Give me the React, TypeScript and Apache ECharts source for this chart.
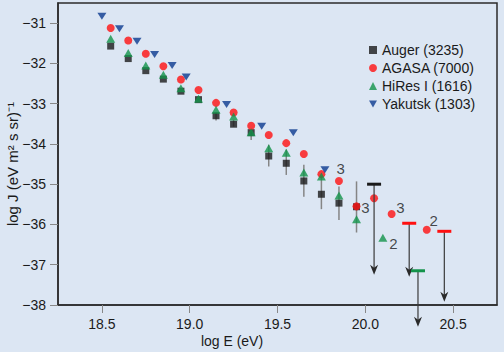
import React, { useEffect, useRef } from "react";
import * as echarts from "echarts";

// Tick labels
const xTicks = [18.5, 19.0, 19.5, 20.0, 20.5];
const yTicks = [-38, -37, -36, -35, -34, -33, -32, -31];

// Series (log E, log J)
const augerE = [18.55, 18.65, 18.75, 18.85, 18.95, 19.05, 19.15, 19.25, 19.35, 19.45, 19.55, 19.65, 19.75, 19.85, 19.95];
const augerJ = [-31.57, -31.88, -32.18, -32.39, -32.69, -32.9, -33.3, -33.51, -33.72, -34.3, -34.48, -34.92, -35.25, -35.47, -35.56];

const agasaE = [18.55, 18.65, 18.75, 18.85, 18.95, 19.05, 19.15, 19.25, 19.35, 19.45, 19.55, 19.65, 19.75, 19.85, 19.95, 20.05, 20.15, 20.35];
const agasaJ = [-31.12, -31.43, -31.76, -32.07, -32.4, -32.66, -32.98, -33.22, -33.55, -33.78, -33.98, -34.25, -34.75, -34.92, -35.55, -35.35, -35.74, -36.13];

const hiresE = [18.55, 18.65, 18.75, 18.85, 18.95, 19.05, 19.15, 19.25, 19.35, 19.45, 19.55, 19.65, 19.75, 19.85, 19.95, 20.1];
const hiresJ = [-31.39, -31.74, -32.05, -32.28, -32.62, -32.88, -33.15, -33.32, -33.71, -34.11, -34.22, -34.71, -34.81, -35.28, -35.87, -36.33];

const yakutskE = [18.5, 18.6, 18.7, 18.8, 18.9, 18.98, 19.21, 19.41, 19.59, 19.77];
const yakutskJ = [-30.83, -31.14, -31.45, -31.78, -32.05, -32.34, -33.02, -33.56, -33.72, -34.64];

// Error bars
const errE = [19.15, 19.25, 19.35, 19.45, 19.55, 19.65, 19.75, 19.85, 19.95];
const errLow = [-33.42, -33.57, -33.9, -34.56, -34.77, -35.31, -35.62, -35.89, -36.2];
const errHigh = [-33.22, -33.4, -33.69, -34.02, -34.14, -34.52, -34.8, -35.06, -34.93];

// Upper limits
const limitSeries = ["Auger", "AGASA", "AGASA", "HiRes"];
const limitE = [20.05, 20.25, 20.45, 20.3];
const limitJ = [-35.0, -35.97, -36.17, -37.15];
const limitArrowJ = [-37.25, -37.3, -37.92, -38.54];

// Annotations (event counts)
const noteE = [19.86, 20.0, 20.2, 20.16, 20.39];
const noteJ = [-34.62, -35.59, -35.58, -36.47, -35.9];
const noteText = ["3", "3", "3", "2", "2"];

const names = ["Auger (3235)", "AGASA (7000)", "HiRes I (1616)", "Yakutsk (1303)"];
const colors: Record<string, string> = {
  Auger: "#1a1a1a",
  AGASA: "#ff1010",
  HiRes: "#13934a",
  Yakutsk: "#0b3a8e",
};

const FONT = "'Liberation Sans', Arial, sans-serif";
const BG = "#dce6f3";

export default function App() {
  const ref = useRef<HTMLDivElement>(null);
  useEffect(() => {
    if (!ref.current) return;
    const chart = echarts.init(ref.current, undefined, { renderer: "svg" });
    const pairs = (e: number[], j: number[]) => e.map((v, i) => [v, j[i]]);
    chart.setOption({
      animation: false,
      backgroundColor: BG,
      textStyle: { fontFamily: FONT },
      grid: {
        left: 58,
        right: 7,
        top: 3,
        bottom: 47,
        show: true,
        borderColor: "#2b2b2b",
        borderWidth: 1.5,
        backgroundColor: "transparent",
      },
      legend: {
        data: names,
        orient: "vertical",
        left: 364,
        top: 38,
        itemWidth: 8,
        itemHeight: 8,
        itemGap: 4,
        textStyle: { fontSize: 14, color: "#1a1a1a", fontFamily: FONT, lineHeight: 14 },
      },
      xAxis: {
        type: "value",
        min: 18.25,
        max: 20.75,
        axisLine: { show: true, lineStyle: { color: "#2b2b2b", width: 1.5 } },
        axisTick: { show: true, length: 8, customValues: xTicks, lineStyle: { color: "#888" } },
        axisLabel: {
          customValues: xTicks,
          formatter: (v: number) => v.toFixed(1),
          fontSize: 14,
          color: "#1a1a1a",
          margin: 12,
          fontFamily: FONT,
        },
        splitLine: { show: false },
      },
      yAxis: {
        type: "value",
        min: -38,
        max: -30.5,
        axisLine: { show: true, lineStyle: { color: "#2b2b2b", width: 1.5 } },
        axisTick: { show: true, length: 8, customValues: yTicks, lineStyle: { color: "#888" } },
        axisLabel: {
          customValues: yTicks,
          formatter: (v: number) => (v < 0 ? "\u2212" : "") + Math.abs(v),
          fontSize: 14,
          color: "#1a1a1a",
          margin: 12,
          fontFamily: FONT,
        },
        splitLine: { show: false },
      },
      graphic: [
        {
          type: "text",
          x: 232,
          y: 341,
          style: {
            text: "log E (eV)",
            fontSize: 14,
            fontFamily: FONT,
            fill: "#1a1a1a",
            textAlign: "center",
            textVerticalAlign: "middle",
          },
        },
        {
          type: "text",
          x: 12,
          y: 164,
          rotation: Math.PI / 2,
          style: {
            text: "log J (eV m\u00B2 s sr)\u207B\u00B9",
            fontSize: 15,
            fontFamily: FONT,
            fill: "#1a1a1a",
            textAlign: "center",
            textVerticalAlign: "middle",
          },
        },
      ],
      series: [
        {
          type: "custom",
          name: "errors",
          data: errE.map((e, i) => [e, errLow[i], errHigh[i]]),
          encode: { x: 0, y: [1, 2] },
          renderItem: (params: any, api: any) => {
            const p1 = api.coord([api.value(0), api.value(1)]);
            const p2 = api.coord([api.value(0), api.value(2)]);
            return {
              type: "line",
              shape: { x1: p1[0], y1: p1[1], x2: p2[0], y2: p2[1] },
              style: { stroke: "#858585", lineWidth: 1.5 },
            };
          },
          z: 1,
        },
        {
          type: "scatter",
          name: names[0],
          symbol: "rect",
          symbolSize: 7,
          itemStyle: { color: colors.Auger },
          data: pairs(augerE, augerJ),
          z: 2,
        },
        {
          type: "scatter",
          name: names[1],
          symbol: "circle",
          symbolSize: 8,
          itemStyle: { color: colors.AGASA },
          data: pairs(agasaE, agasaJ),
          z: 3,
        },
        {
          type: "scatter",
          name: names[2],
          symbol: "triangle",
          symbolSize: [9, 8],
          itemStyle: { color: colors.HiRes },
          data: pairs(hiresE, hiresJ),
          z: 4,
        },
        {
          type: "scatter",
          name: names[3],
          symbol: "path://M0,0L10,0L5,8.5Z",
          symbolSize: [9, 7],
          itemStyle: { color: colors.Yakutsk },
          data: pairs(yakutskE, yakutskJ),
          z: 5,
        },
        {
          type: "custom",
          name: "limits",
          clip: false,
          data: limitE.map((e, i) => [e, limitJ[i], limitArrowJ[i]]),
          encode: { x: 0, y: [1, 2] },
          renderItem: (params: any, api: any) => {
            const i = params.dataIndex;
            const top = api.coord([api.value(0), api.value(1)]);
            const bot = api.coord([api.value(0), api.value(2)]);
            const c = colors[limitSeries[i]];
            const x = top[0];
            const yb = bot[1];
            return {
              type: "group",
              children: [
                {
                  type: "line",
                  shape: { x1: x, y1: top[1], x2: x, y2: yb - 5 },
                  style: { stroke: "#3a3a3a", lineWidth: 1.2 },
                },
                {
                  type: "polygon",
                  shape: { points: [[x, yb], [x - 4, yb - 10], [x, yb - 7], [x + 4, yb - 10]] },
                  style: { fill: "#2a2a2a" },
                },
                {
                  type: "line",
                  shape: { x1: x - 7, y1: top[1], x2: x + 7, y2: top[1] },
                  style: { stroke: c, lineWidth: 3 },
                },
              ],
            };
          },
          z: 6,
        },
        {
          type: "scatter",
          name: "notes",
          symbolSize: 0,
          data: noteE.map((e, i) => [e, noteJ[i], noteText[i]]),
          label: {
            show: true,
            position: "inside",
            formatter: (p: any) => p.value[2],
            fontSize: 15,
            color: "#1a1a1a",
            fontFamily: FONT,
          },
          z: 7,
        },
      ],
    });
    return () => chart.dispose();
  }, []);
  return (
    <div
      ref={ref}
      style={{ position: "fixed", left: 0, top: 0, width: 504, height: 352, background: BG }}
    />
  );
}
